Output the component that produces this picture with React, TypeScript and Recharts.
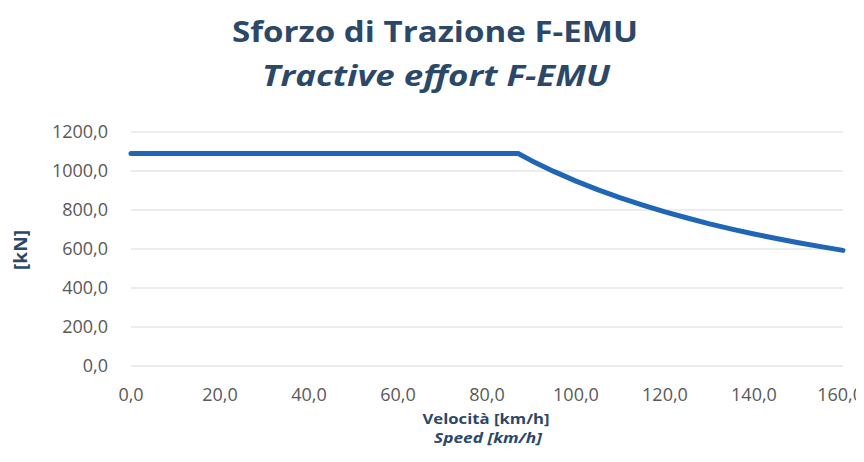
import React from "react";
import { LineChart, Line, XAxis, YAxis, CartesianGrid } from "recharts";

const speeds = [0, 10, 20, 30, 40, 50, 60, 70, 80, 87, 90, 95, 100, 105, 110, 115, 120, 125, 130, 135, 140, 145, 150, 155, 160];
const forces = [1090, 1090, 1090, 1090, 1090, 1090, 1090, 1090, 1090, 1090, 1053, 998, 948, 903, 862, 825, 790, 759, 729, 702, 677, 654, 632, 612, 593];
const xTicks = [0, 20, 40, 60, 80, 100, 120, 140, 160];
const yTicks = [0, 200, 400, 600, 800, 1000, 1200];
const titleMain = "Sforzo di Trazione F-EMU";
const titleSub = "Tractive effort F-EMU";
const xLabelMain = "Velocità [km/h]";
const xLabelSub = "Speed [km/h]";
const yLabel = "[kN]";

const data = speeds.map((s, i) => ({ speed: s, force: forces[i] }));

const fmt = (v: number) => v.toFixed(1).replace(".", ",");

const FONT = "'Open Sans', 'Noto Sans', sans-serif";
const TITLE_COLOR = "#2c4868";
const TICK_COLOR = "#595959";

const XTick = (props: any) => {
  const { x, y, payload } = props;
  const label = fmt(payload.value);
  const maxRight = 863;
  const approxHalf = 23;
  const overflow = x + approxHalf > maxRight;
  return (
    <text
      x={overflow ? maxRight : x}
      y={y}
      dy="0.71em"
      textAnchor={overflow ? "end" : "middle"}
      fill={TICK_COLOR}
      fontSize={18}
      fontFamily={FONT}
    >
      {label}
    </text>
  );
};

export default function App() {
  return (
    <div style={{ position: "relative", width: 864, height: 462, margin: -8, background: "#ffffff", overflow: "hidden" }}>
      <LineChart
        width={864}
        height={462}
        data={data}
        margin={{ top: 132, right: 21, bottom: 0, left: 0 }}
      >
        <CartesianGrid vertical={false} stroke="#d9d9d9" strokeWidth={1} />
        <XAxis
          dataKey="speed"
          type="number"
          domain={[0, 160]}
          ticks={xTicks}
          axisLine={false}
          tickLine={false}
          tickSize={0}
          tickMargin={22}
          height={96}
          interval={0}
          tick={<XTick />}
        />
        <YAxis
          type="number"
          domain={[0, 1200]}
          ticks={yTicks}
          tickFormatter={fmt}
          axisLine={false}
          tickLine={false}
          tickSize={0}
          tickMargin={23}
          width={131}
          interval={0}
          tick={{ fill: TICK_COLOR, fontSize: 18, fontFamily: FONT }}
        />
        <Line
          type="linear"
          dataKey="force"
          stroke="#1f66b6"
          strokeWidth={5}
          dot={false}
          isAnimationActive={false}
          strokeLinejoin="round"
          strokeLinecap="round"
        />
      </LineChart>
      <svg width={864} height={462} style={{ position: "absolute", left: 0, top: 0, pointerEvents: "none" }}>
        <text x={435} y={42} textAnchor="middle" fontFamily={FONT} fontWeight={700} fontSize={29} fill={TITLE_COLOR} textLength={406} lengthAdjust="spacingAndGlyphs">
          {titleMain}
        </text>
        <text x={436} y={86} textAnchor="middle" fontFamily={FONT} fontWeight={700} fontStyle="italic" fontSize={29} fill={TITLE_COLOR} textLength={348} lengthAdjust="spacingAndGlyphs">
          {titleSub}
        </text>
        <text x={486} y={424} textAnchor="middle" fontFamily={FONT} fontWeight={700} fontSize={14} fill={TITLE_COLOR} textLength={127} lengthAdjust="spacingAndGlyphs">
          {xLabelMain}
        </text>
        <text x={488} y={443} textAnchor="middle" fontFamily={FONT} fontWeight={700} fontStyle="italic" fontSize={14} fill={TITLE_COLOR} textLength={108} lengthAdjust="spacingAndGlyphs">
          {xLabelSub}
        </text>
        <text x={0} y={0} transform="translate(27,250) rotate(-90)" textAnchor="middle" fontFamily={FONT} fontWeight={700} fontSize={17} fill={TITLE_COLOR} textLength={40} lengthAdjust="spacingAndGlyphs">
          {yLabel}
        </text>
      </svg>
    </div>
  );
}
